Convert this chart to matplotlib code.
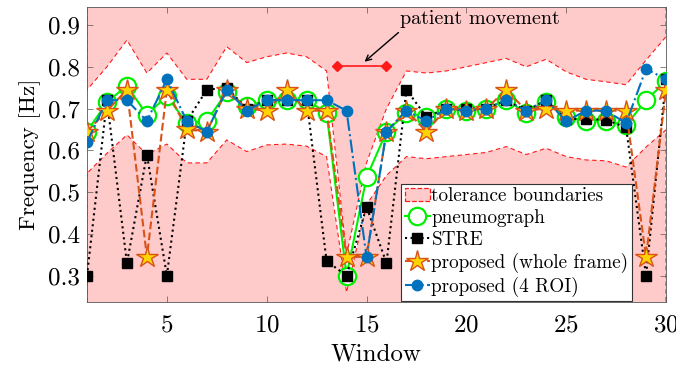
import matplotlib
matplotlib.use('Agg')
import matplotlib.pyplot as plt
from matplotlib.patches import Patch
from matplotlib.lines import Line2D
import numpy as np

plt.rcParams['font.family'] = 'serif'
plt.rcParams['font.serif'] = ['cmr10']
plt.rcParams['mathtext.fontset'] = 'cm'
plt.rcParams['axes.formatter.use_mathtext'] = True

window = np.arange(1, 31)

pneumograph = [0.645, 0.715, 0.755, 0.685, 0.73, 0.665, 0.67, 0.74, 0.705, 0.72,
               0.72, 0.72, 0.69, 0.30, 0.535, 0.645, 0.69, 0.68, 0.70, 0.695,
               0.70, 0.72, 0.69, 0.715, 0.68, 0.67, 0.67, 0.66, 0.72, 0.765]
stre = [0.30, 0.72, 0.33, 0.59, 0.30, 0.67, 0.745, 0.75, 0.70, 0.72,
        0.72, 0.72, 0.335, 0.30, 0.465, 0.33, 0.745, 0.68, 0.70, 0.70,
        0.70, 0.72, 0.695, 0.72, 0.675, 0.675, 0.673, 0.655, 0.30, 0.77]
whole_frame = [0.645, 0.695, 0.745, 0.345, 0.745, 0.65, 0.645, 0.745, 0.70, 0.695,
               0.745, 0.695, 0.695, 0.345, 0.345, 0.645, 0.695, 0.645, 0.70, 0.695,
               0.70, 0.745, 0.695, 0.70, 0.695, 0.695, 0.695, 0.695, 0.345, 0.745]
four_roi = [0.62, 0.72, 0.72, 0.67, 0.77, 0.67, 0.645, 0.745, 0.695, 0.72,
            0.72, 0.72, 0.72, 0.695, 0.345, 0.645, 0.695, 0.67, 0.70, 0.695,
            0.70, 0.72, 0.695, 0.72, 0.67, 0.695, 0.695, 0.665, 0.795, 0.77]

upper = [0.745, 0.80, 0.864, 0.785, 0.833, 0.77, 0.77, 0.848, 0.81, 0.824,
         0.833, 0.824, 0.79, 0.35, 0.57, 0.70, 0.79, 0.785, 0.79, 0.80,
         0.81, 0.82, 0.80, 0.818, 0.788, 0.77, 0.764, 0.757, 0.816, 0.872]
lower = [0.545, 0.593, 0.637, 0.59, 0.615, 0.57, 0.57, 0.625, 0.597, 0.613,
         0.615, 0.61, 0.585, 0.26, 0.47, 0.54, 0.585, 0.58, 0.585, 0.59,
         0.595, 0.609, 0.59, 0.605, 0.585, 0.577, 0.575, 0.56, 0.608, 0.649]

movement_span = [13.5, 16]
movement_level = 0.802

pink = '#ffcaca'
red = '#ff1a1a'
orange = '#d95319'
blue = '#0072bd'
green = '#00f000'

fig = plt.figure(figsize=(6.76, 3.71), dpi=100)
ax = fig.add_axes([0.1287, 0.186, 0.8565, 0.795])

ymin, ymax = 0.237, 0.943

# tolerance region: shaded outside the band
ax.fill_between(window, upper, 1.2, facecolor=pink, edgecolor=red,
                linestyle=(0, (4, 3)), linewidth=0.8, zorder=1)
ax.fill_between(window, -0.2, lower, facecolor=pink, edgecolor=red,
                linestyle=(0, (4, 3)), linewidth=0.8, zorder=1)

ax.plot(window, pneumograph, '-', color=green, lw=1.5, marker='o', ms=12.5,
        mfc='white', mec=green, mew=1.6, zorder=3)
ax.plot(window, stre, ':', color='black', lw=1.5, marker='s', ms=7,
        mfc='black', mec='black', zorder=4)
ax.plot(window, whole_frame, '--', color=orange, lw=1.5, marker='*', ms=16,
        mfc='#ffd400', mec=orange, mew=1.0, zorder=5)
ax.plot(window, four_roi, '-.', color=blue, lw=1.5, marker='o', ms=7.5,
        mfc=blue, mec=blue, zorder=6)

# patient movement marker
ax.plot(movement_span, [movement_level, movement_level], '-', color=red, lw=1.2,
        marker='D', ms=5.5, mfc=red, mec=red, zorder=6)
ax.annotate('', xy=(14.9, 0.812), xytext=(16.6, 0.882),
            arrowprops=dict(arrowstyle='->', color='black', lw=1.0,
                            shrinkA=0, shrinkB=0), zorder=7)
ax.text(20.7, 0.915, 'patient movement', ha='center', va='center',
        fontsize=14.5, zorder=7)

ax.set_xlim(1, 30)
ax.set_ylim(ymin, ymax)
ax.set_xticks([5, 10, 15, 20, 25, 30])
ax.set_yticks([0.3, 0.4, 0.5, 0.6, 0.7, 0.8, 0.9])
ax.set_yticklabels(['0.3', '0.4', '0.5', '0.6', '0.7', '0.8', '0.9'])
ax.tick_params(direction='in', top=True, right=True, labelsize=18,
               length=4, width=0.5, color='#555555')
ax.tick_params(axis='x', pad=9)
ax.tick_params(axis='y', pad=5)
for s in ax.spines.values():
    s.set_linewidth(0.6)
    s.set_color('#555555')
ax.set_xlabel('Window', fontsize=18, labelpad=5)
ax.set_ylabel('Frequency [Hz]', fontsize=16.5, labelpad=5)

handles = [
    Patch(facecolor=pink, edgecolor=red, linestyle='--', linewidth=0.9),
    Line2D([], [], color=green, lw=1.5, marker='o', ms=12.5, mfc='white', mec=green, mew=1.6),
    Line2D([], [], color='black', ls=':', lw=1.5, marker='s', ms=7),
    Line2D([], [], color=orange, ls='--', lw=1.5, marker='*', ms=16, mfc='#ffd400', mec=orange),
    Line2D([], [], color=blue, ls='-.', lw=1.5, marker='o', ms=7.5),
]
labels = ['tolerance boundaries', 'pneumograph', 'STRE',
          'proposed (whole frame)', 'proposed (4 ROI)']
leg = ax.legend(handles, labels, loc='lower left', bbox_to_anchor=(0.542, 0.005),
                fontsize=13.8, handlelength=1.3, handletextpad=0.1,
                borderpad=0.2, labelspacing=0.2, borderaxespad=0,
                fancybox=False, framealpha=1, edgecolor='#333333')
leg.get_frame().set_linewidth(0.8)
leg.set_zorder(10)

fig.savefig('out.png', dpi=100)
